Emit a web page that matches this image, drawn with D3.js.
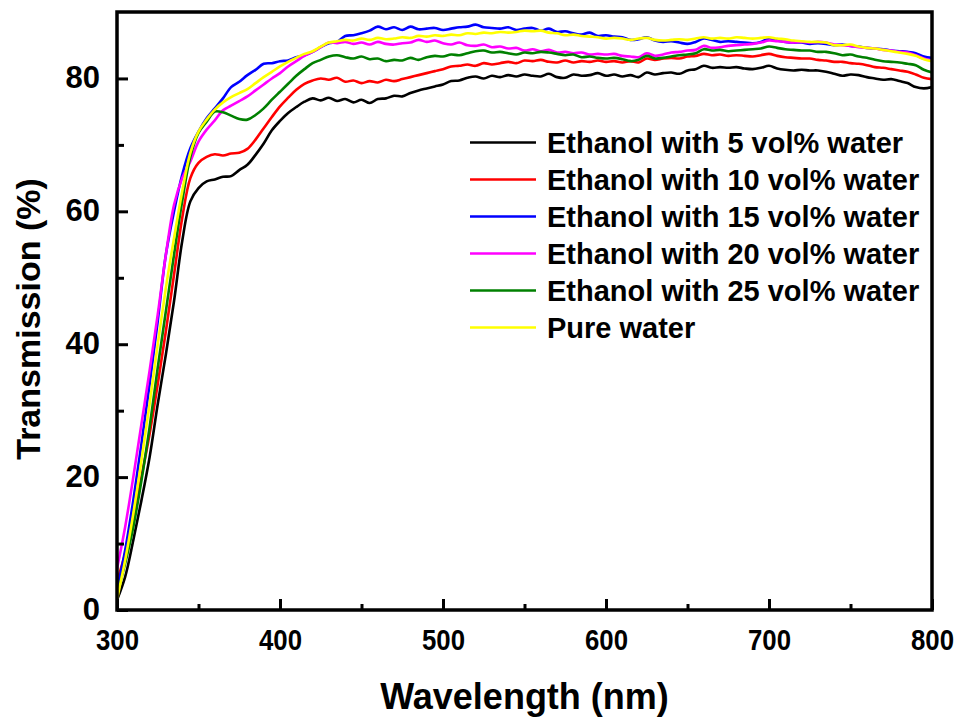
<!DOCTYPE html>
<html>
<head>
<meta charset="utf-8">
<script src="https://cdn.jsdelivr.net/npm/d3@7"></script>
<style>
body { margin: 0; background: #fff; }
text { font-family: "Liberation Sans", Arial, sans-serif; font-weight: bold; fill: #000; }
</style>
</head>
<body>
<div id="chart"></div>
<script>
// wavelength grid (nm)
var wavelengths = [300,305,310,315,320,325,330,335,340,345,350,355,360,365,370,375,380,385,390,395,
400,405,410,415,420,425,430,435,440,445,450,455,460,465,470,475,480,485,490,495,
500,505,510,515,520,525,530,535,540,545,550,555,560,565,570,575,580,585,590,595,
600,605,610,615,620,625,630,635,640,645,650,655,660,665,670,675,680,685,690,695,
700,705,710,715,720,725,730,735,740,745,750,755,760,765,770,775,780,785,790,795,800];

var water5 = [1.5,5,10.5,16.5,23,31,38.5,46.5,55.5,61.5,63.5,64.5,64.8,65.2,65.3,66.2,67,68.5,70.2,72.2,
73.6,74.8,75.7,76.5,77.0,76.7,77.1,76.6,76.9,76.4,76.8,76.3,76.9,77.0,77.4,77.3,77.8,78.2,78.5,78.8,
79.1,79.6,79.7,80.1,80.3,80.0,80.4,80.2,80.5,80.3,80.6,80.4,80.3,80.7,80.2,80.1,80.6,80.4,80.5,80.8,
80.4,80.6,80.3,80.5,80.2,80.9,80.6,80.8,80.9,80.7,81.2,81.4,81.9,81.6,81.7,81.6,81.7,81.5,81.4,81.6,
81.9,81.5,81.3,81.2,81.3,81.2,81.2,81.0,80.7,80.4,80.6,80.5,80.2,80.0,79.8,79.9,79.6,79.3,78.7,78.5,78.7];

var water10 = [4.3,8.5,13.5,20,26.5,34,42,50.5,59,65,67.3,68.2,68.6,68.4,68.7,68.8,69.4,70.8,72.5,74.2,
75.8,77.1,78.3,79.2,79.7,80.0,79.8,80.1,79.5,79.7,79.3,79.6,79.4,79.8,79.6,79.9,80.2,80.5,80.8,81.1,
81.4,81.8,81.9,82.1,81.9,82.3,82.1,82.3,82.5,82.3,82.7,82.6,82.8,82.5,82.4,82.7,82.4,82.6,82.5,82.7,
82.5,82.6,82.4,82.6,82.4,83.0,82.8,83.0,83.1,83.0,83.3,83.4,83.7,83.5,83.6,83.4,83.5,83.4,83.3,83.5,
83.7,83.4,83.2,83.1,83.0,83.0,82.8,82.7,82.5,82.5,82.3,82.2,82.0,81.7,81.6,81.4,81.2,81.0,80.6,80.1,79.9];

var water15 = [3,9,16.5,25,34,43.5,53.5,60,65.5,69.5,72,74,75.5,77,78.7,79.5,80.5,81.3,82.2,82.3,
82.6,82.7,83.2,83.5,84.0,84.7,85.3,85.5,86.4,86.5,86.8,87.2,87.8,87.4,87.7,87.3,87.8,87.4,87.5,87.6,
87.3,87.5,87.7,87.8,88.1,87.7,87.6,87.5,87.7,87.3,87.5,87.6,87.2,87.5,87.0,87.1,86.8,86.6,86.9,86.4,
86.5,86.3,86.2,85.8,85.9,86.2,85.7,85.5,85.6,85.4,85.2,85.5,86.0,85.8,85.5,85.6,85.5,85.4,85.3,85.5,
86.0,85.7,85.5,85.4,85.4,85.2,85.3,85.2,85.0,85.1,84.9,84.8,84.6,84.5,84.4,84.2,84.1,84.0,83.8,83.3,83.1];

var water20 = [6.2,12.5,20,28,36,44.5,53.5,61,65,67.5,70.5,72.3,73.7,75.2,75.9,76.6,77.3,78.2,79.1,80.0,
80.8,81.8,82.6,83.4,84.0,84.7,85.4,85.3,85.5,85.2,85.4,85.1,85.5,85.2,85.1,85.3,85.4,85.8,85.5,85.7,
85.3,85.1,85.4,85.0,84.9,85.1,84.7,84.8,84.5,84.6,84.2,84.4,84.1,84.3,83.9,84.0,83.8,83.9,83.6,83.7,
83.6,83.7,83.4,83.3,83.2,83.8,83.4,83.6,83.9,84.0,84.2,84.3,84.9,84.6,84.7,84.9,85.0,85.1,85.2,85.4,
85.7,85.6,85.5,85.4,85.5,85.4,85.5,85.4,85.1,85.0,84.9,84.7,84.6,84.5,84.3,84.2,84.0,83.9,83.5,83.0,82.7];

var water25 = [2.3,7,12.5,19.5,27.5,36.5,45,53.5,61.5,68.2,71.8,73.5,75.0,74.9,74.4,73.9,73.8,74.5,75.5,76.8,
78.0,79.2,80.4,81.4,82.3,82.8,83.3,83.5,83.2,83.0,83.3,82.9,83.0,82.6,82.8,82.7,83.1,82.8,83.2,83.4,
83.3,83.6,83.5,83.8,84.1,84.2,83.9,84.0,83.8,83.6,83.9,83.8,84.0,83.9,83.7,83.5,83.6,83.2,83.3,83.1,
83.0,83.1,82.9,82.6,82.8,83.4,83.0,83.1,83.3,83.5,83.6,83.8,84.4,84.2,84.3,84.1,84.2,84.3,84.4,84.5,
84.8,84.6,84.4,84.3,84.2,84.2,84.0,84.0,83.8,83.5,83.6,83.3,83.1,82.8,82.6,82.5,82.4,82.2,82.0,81.3,80.9];

var pureWater = [1.6,7.5,14.5,22.5,31,40,48.5,56,63,68.8,72.0,73.8,75.3,76.4,77.2,77.8,78.4,79.3,80.2,81.0,
81.8,82.5,83.1,83.7,84.1,84.8,85.4,85.6,85.8,85.7,86.0,85.8,86.1,85.9,86.0,86.2,86.1,86.4,86.3,86.5,
86.4,86.6,86.5,86.8,86.7,86.9,86.8,87.0,86.9,87.0,87.2,87.1,87.2,86.9,86.8,86.5,86.6,86.4,86.3,86.2,
86.0,86.1,86.0,85.8,86.0,86.1,85.8,85.7,85.8,85.9,85.8,86.0,86.2,86.0,86.1,86.0,86.2,86.1,86.0,86.1,
86.2,86.0,85.9,85.7,85.6,85.5,85.5,85.4,85.0,85.0,85.1,84.8,84.6,84.5,84.3,84.1,83.9,83.7,83.4,82.9,82.6];

var seriesNames = ["Ethanol with 5 vol% water","Ethanol with 10 vol% water","Ethanol with 15 vol% water",
  "Ethanol with 20 vol% water","Ethanol with 25 vol% water","Pure water"];
var seriesValues = [water5, water10, water15, water20, water25, pureWater];
var seriesColors = ["#000000","#ff0000","#0000ff","#ff00ff","#008000","#ffff00"];

var xTicks = [300,400,500,600,700,800];
var xMinorTicks = [350,450,550,650,750];
var yTicks = [0,20,40,60,80];
var yMinorTicks = [10,30,50,70];

var margin = {top: 12, right: 33, bottom: 117, left: 117},
    width = 965 - margin.left - margin.right,
    height = 727 - margin.top - margin.bottom;

var x = d3.scaleLinear().domain([300, 800]).range([0, width]);
var y = d3.scaleLinear().domain([0, 90]).range([height, 0]);

var svg = d3.select("#chart").append("svg")
    .attr("width", 965)
    .attr("height", 727)
  .append("g")
    .attr("transform", "translate(" + margin.left + "," + margin.top + ")");

svg.append("clipPath").attr("id", "clip")
  .append("rect").attr("width", width).attr("height", height);

// curves
var line = d3.line()
    .x(function(d) { return x(d[0]); })
    .y(function(d) { return y(d[1]); })
    .curve(d3.curveCatmullRom);

var plot = svg.append("g").attr("clip-path", "url(#clip)");
seriesValues.forEach(function(vals, i) {
  var pts = wavelengths.map(function(w, j) { return [w, vals[j]]; });
  plot.append("path")
    .datum(pts)
    .attr("fill", "none")
    .attr("stroke", seriesColors[i])
    .attr("stroke-width", 2.6)
    .attr("stroke-linejoin", "round")
    .attr("d", line);
});

// x axis (ticks point inward)
var xAxis = svg.append("g")
  .attr("transform", "translate(0," + height + ")")
  .call(d3.axisBottom(x).tickValues(xTicks).tickSize(-11).tickPadding(19));
svg.append("g")
  .attr("transform", "translate(0," + height + ")")
  .call(d3.axisBottom(x).tickValues(xMinorTicks).tickSize(-6).tickFormat(""));

// y axis
var yAxis = svg.append("g")
  .call(d3.axisLeft(y).tickValues(yTicks).tickSize(-11).tickPadding(17));
svg.append("g")
  .call(d3.axisLeft(y).tickValues(yMinorTicks).tickSize(-7).tickFormat(""));

svg.selectAll(".domain").remove();
svg.selectAll(".tick line").attr("stroke", "#000").attr("stroke-width", 3);
// x labels in the original are set a little narrow
xAxis.selectAll("text").style("font-size", "30px").attr("dy", "0.71em")
  .attr("transform", "scale(0.86,1)");
yAxis.selectAll("text").style("font-size", "31px").attr("dy", "0.3em");

// frame
svg.append("rect")
  .attr("width", width)
  .attr("height", height)
  .attr("fill", "none")
  .attr("stroke", "#000")
  .attr("stroke-width", 3.5);

// axis titles
svg.append("text")
  .attr("x", width / 2)
  .attr("y", height + 99)
  .attr("text-anchor", "middle")
  .style("font-size", "36px")
  .text("Wavelength (nm)");

svg.append("text")
  .attr("transform", "translate(" + (-77) + "," + (height / 2 + 8) + ") rotate(-90)")
  .attr("text-anchor", "middle")
  .style("font-size", "34px")
  .text("Transmission (%)");

// legend
var legend = svg.append("g").attr("transform", "translate(" + (470 - margin.left) + "," + (142.5 - margin.top) + ")");
seriesNames.forEach(function(name, i) {
  var row = legend.append("g").attr("transform", "translate(0," + (i * 37) + ")");
  row.append("line")
    .attr("x1", 0).attr("x2", 66)
    .attr("stroke", seriesColors[i])
    .attr("stroke-width", 2.6);
  row.append("text")
    .attr("x", 77)
    .attr("dy", "0.35em")
    .style("font-size", "29px")
    .text(name);
});
</script>
</body>
</html>
